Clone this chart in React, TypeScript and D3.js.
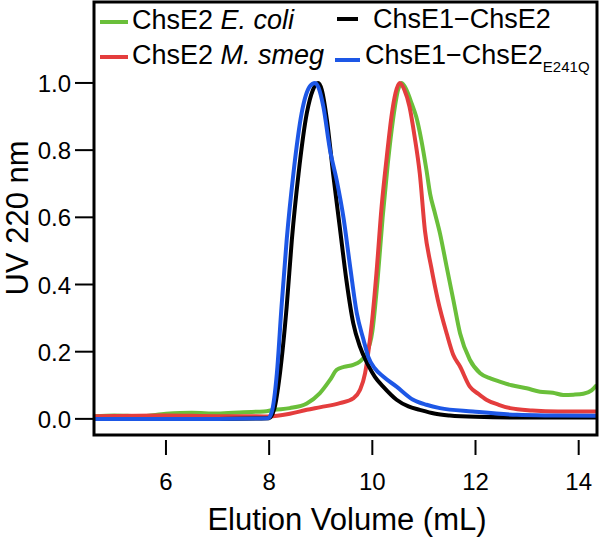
import React from "react";
import * as d3 from "d3";

const greenX = [4.62, 5.0, 5.5, 6.0, 6.5, 7.0, 7.5, 7.9, 8.1, 8.4, 8.73, 8.98, 9.18, 9.31, 9.45, 9.63, 9.76, 9.89, 10.0, 10.1, 10.2, 10.3, 10.4, 10.5, 10.57, 10.66, 10.76, 10.85, 10.95, 11.05, 11.12, 11.2, 11.31, 11.44, 11.57, 11.7, 11.89, 12.09, 12.3, 12.47, 12.7, 12.99, 13.25, 13.5, 13.7, 13.9, 14.09, 14.25, 14.35];
const greenV = [0.008, 0.01, 0.008, 0.015, 0.018, 0.016, 0.02, 0.022, 0.027, 0.032, 0.046, 0.076, 0.116, 0.146, 0.155, 0.161, 0.171, 0.196, 0.26, 0.41, 0.6, 0.76, 0.89, 0.98, 1.0, 0.98, 0.94, 0.9, 0.83, 0.74, 0.67, 0.62, 0.553, 0.453, 0.354, 0.255, 0.176, 0.136, 0.12, 0.111, 0.1, 0.091, 0.081, 0.078, 0.071, 0.072, 0.075, 0.085, 0.101];

const redX = [4.62, 6.0, 7.0, 7.5, 8.0, 8.4, 8.73, 9.0, 9.37, 9.63, 9.76, 9.86, 9.92, 9.99, 10.08, 10.18, 10.28, 10.38, 10.45, 10.53, 10.62, 10.72, 10.82, 10.92, 11.02, 11.14, 11.27, 11.44, 11.57, 11.7, 11.89, 12.05, 12.21, 12.45, 12.67, 13.1, 13.6, 14.35];
const redV = [0.008, 0.01, 0.008, 0.008, 0.007, 0.015, 0.027, 0.035, 0.047, 0.061, 0.086, 0.136, 0.196, 0.284, 0.434, 0.632, 0.78, 0.91, 0.97, 1.0, 0.98, 0.93, 0.84, 0.73, 0.56, 0.453, 0.354, 0.255, 0.19, 0.156, 0.096, 0.075, 0.057, 0.042, 0.032, 0.025, 0.022, 0.022];

const blackX = [4.62, 6.0, 7.0, 8.0, 8.1, 8.21, 8.34, 8.44, 8.57, 8.73, 8.85, 8.95, 9.02, 9.12, 9.24, 9.37, 9.5, 9.63, 9.76, 9.92, 10.05, 10.21, 10.47, 10.7, 10.92, 11.2, 11.5, 12.0, 13.0, 14.35];
const blackV = [0.0, 0.0, 0.0, 0.002, 0.03, 0.136, 0.334, 0.533, 0.73, 0.91, 0.98, 1.0, 0.98, 0.89, 0.73, 0.57, 0.41, 0.285, 0.215, 0.16, 0.125, 0.096, 0.057, 0.037, 0.027, 0.016, 0.01, 0.006, 0.004, 0.004];

const blueX = [4.62, 6.0, 7.0, 7.98, 8.05, 8.15, 8.24, 8.34, 8.47, 8.63, 8.79, 8.89, 8.96, 9.05, 9.18, 9.31, 9.44, 9.57, 9.7, 9.83, 9.92, 10.05, 10.21, 10.47, 10.79, 11.05, 11.31, 11.95, 12.8, 13.5, 14.35];
const blueV = [0.0, 0.0, 0.0, 0.002, 0.02, 0.136, 0.334, 0.533, 0.73, 0.91, 0.99, 1.0, 0.985, 0.93, 0.8, 0.71, 0.6, 0.453, 0.314, 0.235, 0.185, 0.15, 0.126, 0.096, 0.057, 0.042, 0.032, 0.022, 0.012, 0.01, 0.009];

const xTicks = [6, 8, 10, 12, 14];
const yTicks = [0, 0.2, 0.4, 0.6, 0.8, 1.0];

const series = [
  { name: "green", xs: greenX, vs: greenV, color: "#6abf3a" },
  { name: "red", xs: redX, vs: redV, color: "#e43d3d" },
  { name: "black", xs: blackX, vs: blackV, color: "#000000" },
  { name: "blue", xs: blueX, vs: blueV, color: "#1d57e6" },
];

const FONT = "'Liberation Sans', Arial, Helvetica, sans-serif";

export default function App() {
  const left = 94, right = 597, top = 2, bottom = 435;
  const x = d3.scaleLinear().domain([4.605, 14.355]).range([left, right]);
  const y = d3.scaleLinear().domain([-0.048, 1.241]).range([bottom, top]);
  const line = d3
    .line<[number, number]>()
    .x((d) => x(d[0]))
    .y((d) => y(d[1]))
    .curve(d3.curveMonotoneX);

  return (
    <svg
      width={600}
      height={538}
      style={{ position: "absolute", left: 0, top: 0, background: "#fff" }}
      fontFamily={FONT}
    >
      <defs>
        <clipPath id="plot">
          <rect x={left} y={top} width={right - left} height={bottom - top} />
        </clipPath>
      </defs>
      <g clipPath="url(#plot)">
        {series.map((s) => (
          <path
            key={s.name}
            d={line(s.xs.map((v, i) => [v, s.vs[i]] as [number, number])) || ""}
            fill="none"
            stroke={s.color}
            strokeWidth={4}
            strokeLinejoin="round"
          />
        ))}
      </g>
      <rect x={left} y={top} width={right - left} height={bottom - top} fill="none" stroke="#000" strokeWidth={3} />

      {xTicks.map((t) => (
        <g key={t}>
          <line x1={x(t)} x2={x(t)} y1={440} y2={455} stroke="#000" strokeWidth={2} />
          <text x={x(t)} y={490} fontSize={24} textAnchor="middle">{t}</text>
        </g>
      ))}
      {yTicks.map((t) => (
        <g key={t}>
          <line x1={75} x2={left} y1={y(t)} y2={y(t)} stroke="#000" strokeWidth={2} />
          <text x={71} y={y(t) + 9} fontSize={24} textAnchor="end">{t.toFixed(1)}</text>
        </g>
      ))}
      <text x={347} y={530} fontSize={31} textAnchor="middle">Elution Volume (mL)</text>
      <text transform="translate(28,218) rotate(-90)" fontSize={31} textAnchor="middle">UV 220 nm</text>

      <line x1={100} x2={128} y1={22} y2={22} stroke="#6abf3a" strokeWidth={4} />
      <text x={132} y={29} fontSize={27}>ChsE2 <tspan fontStyle="italic">E. coli</tspan></text>
      <line x1={100} x2={128} y1={57} y2={57} stroke="#e43d3d" strokeWidth={4} />
      <text x={132} y={64} fontSize={27}>ChsE2 <tspan fontStyle="italic">M. smeg</tspan></text>
      <line x1={337} x2={358} y1={19} y2={19} stroke="#000" strokeWidth={4} />
      <text x={373} y={28} fontSize={27}>ChsE1−ChsE2</text>
      <line x1={335} x2={360} y1={60} y2={60} stroke="#1d57e6" strokeWidth={4} />
      <text x={365} y={64} fontSize={27}>ChsE1−ChsE2<tspan fontSize={15} dy={8}>E241Q</tspan></text>
    </svg>
  );
}
